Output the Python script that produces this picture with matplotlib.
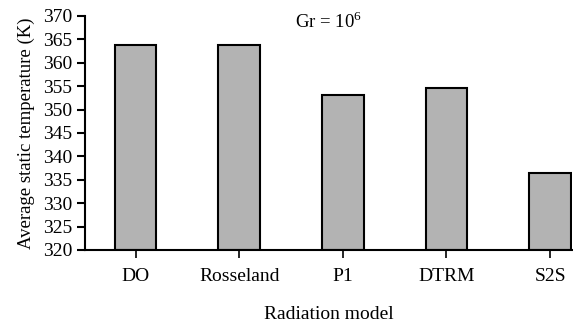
import matplotlib
matplotlib.use('Agg')
import matplotlib.pyplot as plt

models = ['DO', 'Rosseland', 'P1', 'DTRM', 'S2S']
temps = [363.8, 363.8, 353.0, 354.7, 336.5]
yticks = list(range(320, 371, 5))

plt.rcParams['font.family'] = 'Liberation Serif'
plt.rcParams['mathtext.fontset'] = 'custom'
plt.rcParams['mathtext.rm'] = 'Liberation Serif'

fig = plt.figure(figsize=(5.73, 3.25), dpi=100)
ax = fig.add_axes([0.148, 0.231, 0.85, 0.72])

x = range(len(models))
ax.bar(x, [t - 320 for t in temps], bottom=320, width=0.4,
       color='#b3b3b3', edgecolor='black', linewidth=1.5)

ax.set_xlim(-0.49, 4.21)
ax.set_ylim(320, 370)
ax.set_yticks(yticks)
ax.set_xticks(list(x))
ax.set_xticklabels(models)

for s in ['top', 'right']:
    ax.spines[s].set_visible(False)
for s in ['left', 'bottom']:
    ax.spines[s].set_linewidth(1.5)

ax.tick_params(axis='y', direction='out', length=6, width=1.5, labelsize=14, pad=3)
ax.tick_params(axis='x', direction='out', length=6, width=1.2, labelsize=14, pad=7)

ax.set_ylabel('Average static temperature (K)', fontsize=13.5, labelpad=6)
ax.set_xlabel('Radiation model', fontsize=14, labelpad=15)

ax.text(0.432, 0.975, r'Gr = 10$^\mathregular{6}$', transform=ax.transAxes,
        fontsize=13.5, va='center', ha='left')

fig.savefig('out.png', dpi=100)
